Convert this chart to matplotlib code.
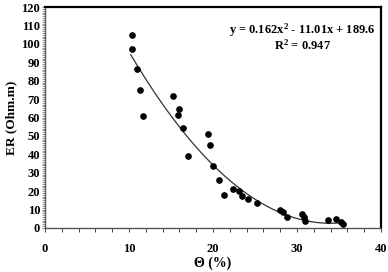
import numpy as np
import matplotlib
matplotlib.use("Agg")
import matplotlib.pyplot as plt
from matplotlib.ticker import MultipleLocator

# --- data ------------------------------------------------------------------
theta = [10.3, 10.4, 10.9, 11.3, 11.65, 15.2, 15.85, 15.97, 16.4, 17.05,
         19.4, 19.6, 20.0, 20.7, 21.35, 22.4, 23.1, 23.4, 24.2, 25.2,
         28.0, 28.35, 28.8, 30.6, 30.8, 30.9, 33.7, 34.6, 35.2, 35.45]
er = [105.0, 97.0, 86.5, 75.0, 60.8, 71.5, 61.5, 64.5, 54.5, 39.0,
      51.0, 44.8, 33.8, 26.2, 18.0, 21.0, 20.2, 17.2, 15.5, 13.6,
      9.6, 8.7, 6.0, 7.5, 5.8, 4.0, 4.5, 5.0, 3.1, 2.0]

trend_coef = [0.162, -11.01, 189.6]   # y = a x^2 + b x + c (from chart label)
trend_range = [10.2, 35.5]

eq_text = "y = 0.162x$^{2}$ - 11.01x + 189.6"
r2_text = "R$^{2}$ = 0.947"

# --- plot ------------------------------------------------------------------
plt.rcParams["font.family"] = ["Liberation Serif", "DejaVu Serif"]
plt.rcParams["font.weight"] = "bold"
plt.rcParams["mathtext.fontset"] = "custom"
plt.rcParams["mathtext.rm"] = "Liberation Serif:bold"
plt.rcParams["mathtext.it"] = "Liberation Serif:bold"
plt.rcParams["mathtext.bf"] = "Liberation Serif:bold"

fig = plt.figure(figsize=(3.88, 2.72), dpi=100)
ax = fig.add_axes([0.116, 0.162, 0.866, 0.812])

xs = np.linspace(trend_range[0], trend_range[1], 200)
ax.plot(xs, np.polyval(trend_coef, xs), color="#333333", lw=0.9, zorder=2)
ax.plot(theta, er, "o", color="black", ms=3.8, zorder=3)

ax.set_xlim(0, 40)
ax.set_ylim(0, 120)
ax.xaxis.set_major_locator(MultipleLocator(10))
ax.xaxis.set_minor_locator(MultipleLocator(2))
ax.yaxis.set_major_locator(MultipleLocator(10))
ax.yaxis.set_minor_locator(MultipleLocator(1))
ax.tick_params(axis="x", which="both", direction="out", length=3, width=0.7,
               pad=8, labelsize=9, colors="#444444", labelcolor="black")
ax.tick_params(axis="y", which="both", direction="out", length=2, width=0.5,
               pad=1.5, labelsize=9, colors="#666666", labelcolor="black")
for lab in ax.get_xticklabels() + ax.get_yticklabels():
    lab.set_fontweight("bold")

for side in ("top", "right"):
    ax.spines[side].set_linewidth(1.6)
for side in ("left", "bottom"):
    ax.spines[side].set_linewidth(1.0)
    ax.spines[side].set_color("#555555")

ax.set_xlabel("Θ (%)", fontsize=10, fontweight="bold", labelpad=1)
ax.set_ylabel("ER (Ohm.m)", fontsize=9.5, fontweight="bold", labelpad=3)

ax.text(0.985, 0.895, eq_text, transform=ax.transAxes, ha="right",
        va="center", fontsize=9, fontweight="bold")
ax.text(0.765, 0.825, r2_text, transform=ax.transAxes, ha="center",
        va="center", fontsize=9, fontweight="bold")

fig.savefig("out.png", dpi=100)
